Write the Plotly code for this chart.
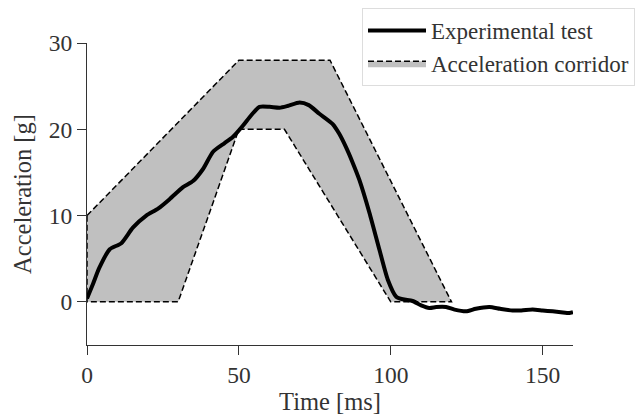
import plotly.graph_objects as go

# Experimental test curve
time_ms = [0, 2, 4, 7.5, 11.3, 15.1, 19.5, 23.4, 27.2, 31.6, 34.9, 38.2, 41.5, 45.3, 48,
           51.3, 54, 56.8, 60.1, 63.4, 66, 70, 73, 76.5, 80.9, 83, 85.3, 87.5, 89.7, 93,
           96.3, 99, 101.8, 104, 107.2, 110, 112.7, 115, 118.2, 121, 124.8, 128, 132.5,
           136, 140.1, 143, 146.7, 150, 153.3, 156, 158.8, 160]
accel_g = [0.4, 2.1, 3.9, 6.1, 6.8, 8.6, 10.0, 10.8, 11.9, 13.3, 14.0, 15.4, 17.4, 18.4, 19.1,
           20.4, 21.6, 22.6, 22.6, 22.5, 22.7, 23.1, 22.8, 21.8, 20.6, 19.5, 17.9, 16.1, 14.1, 10.3,
           6.0, 2.6, 0.6, 0.3, 0.1, -0.4, -0.7, -0.6, -0.6, -0.9, -1.1, -0.8, -0.6,
           -0.8, -1.0, -1.0, -0.9, -1.0, -1.1, -1.2, -1.3, -1.2]

# Acceleration corridor polygon (upper boundary then lower boundary back)
corridor_t = [0, 50, 80, 120, 100, 65, 50, 30, 0, 0]
corridor_a = [10, 28, 28, 0, 0, 20, 20, 0, 0, 10]

x_ticks = [0, 50, 100, 150]
y_ticks = [0, 10, 20, 30]

FONT = "Liberation Serif, Times New Roman, serif"

fig = go.Figure()
fig.add_trace(go.Scatter(
    x=corridor_t, y=corridor_a, mode="lines", fill="toself",
    fillcolor="#c0c0c0", line=dict(color="black", width=1.5, dash="6px,3px"),
    name="Acceleration corridor", legendrank=2, hoverinfo="skip"))
fig.add_trace(go.Scatter(
    x=time_ms, y=accel_g, mode="lines",
    line=dict(color="black", width=4, shape="spline", smoothing=0.6),
    name="Experimental test", legendrank=1))

fig.update_layout(
    width=637, height=416,
    margin=dict(l=87, r=64, t=43, b=71, autoexpand=False),
    plot_bgcolor="white", paper_bgcolor="white",
    font=dict(family=FONT, size=23.5, color="#333333"),
    showlegend=True,
    legend=dict(x=(362 - 87) / 486, y=(345 - 8) / 302, xanchor="left", yanchor="top",
                bgcolor="rgba(255,255,255,0.85)", bordercolor="#dddddd", borderwidth=1,
                font=dict(family=FONT, size=23, color="#333333"),
                itemwidth=58, entrywidth=290),
    xaxis=dict(range=[0, 160], tickvals=x_ticks, showgrid=False, zeroline=False,
               showline=True, linecolor="#333333", linewidth=1.2, automargin=False,
               ticks="outside", ticklen=9, tickcolor="#333333", tickwidth=1.2,
               title=dict(text="Time [ms]", standoff=3, font=dict(size=24.5))),
    yaxis=dict(range=[-5, 30], tickvals=y_ticks, showgrid=False, zeroline=False,
               showline=True, linecolor="#333333", linewidth=1.2, automargin=False,
               ticks="outside", ticklen=9, tickcolor="#333333", tickwidth=1.2,
               title=dict(text="Acceleration [g]", standoff=10, font=dict(size=24.5))),
)

fig.write_html("out.html")
